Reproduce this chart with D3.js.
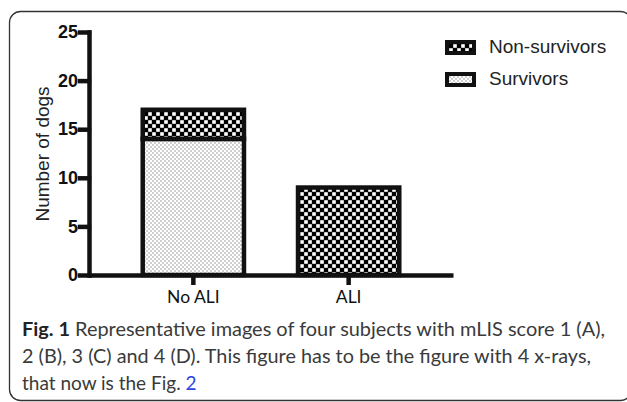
<!DOCTYPE html>
<html>
<head>
<meta charset="utf-8">
<script src="https://cdn.jsdelivr.net/npm/d3@7"></script>
<style>
  body { margin: 0; background: #fff; }
</style>
</head>
<body>
<div class="chart"></div>
<script>
const w = 627;
const h = 402;

// data
const groups = ["No ALI", "ALI"];
const survivors = [14, 0];
const nonSurvivors = [3, 9];
const seriesNames = ["Survivors", "Non-survivors"];
const legendNames = ["Non-survivors", "Survivors"];
const yTicks = [0, 5, 10, 15, 20, 25];
const captionLines = [
  "Representative images of four subjects with mLIS score 1 (A),",
  "2 (B), 3 (C) and 4 (D). This figure has to be the figure with 4 x-rays,",
  "that now is the Fig. "
];

const svg = d3
  .select(".chart")
  .append("svg")
  .attr("width", w)
  .attr("height", h);

// patterns
const defs = svg.append("defs");
const checker = defs
  .append("pattern")
  .attr("id", "checker")
  .attr("patternUnits", "userSpaceOnUse")
  .attr("width", 8)
  .attr("height", 8);
checker.append("rect").attr("width", 8).attr("height", 8).attr("fill", "#000");
checker.append("rect").attr("x", 4.2).attr("y", 0.2).attr("width", 3.6).attr("height", 3.6).attr("fill", "#fff");
checker.append("rect").attr("x", 0.2).attr("y", 4.2).attr("width", 3.6).attr("height", 3.6).attr("fill", "#fff");

const dots = defs
  .append("pattern")
  .attr("id", "dots")
  .attr("patternUnits", "userSpaceOnUse")
  .attr("width", 4)
  .attr("height", 4);
dots.append("rect").attr("width", 4).attr("height", 4).attr("fill", "#fff");
dots.append("circle").attr("cx", 1).attr("cy", 1).attr("r", 0.65).attr("fill", "#777");
dots.append("circle").attr("cx", 3).attr("cy", 3).attr("r", 0.65).attr("fill", "#777");

const fills = { "Survivors": "url(#dots)", "Non-survivors": "url(#checker)" };

// frame
svg
  .append("rect")
  .attr("x", 9.5)
  .attr("y", 11.5)
  .attr("width", 622)
  .attr("height", 389)
  .attr("rx", 11)
  .attr("fill", "none")
  .attr("stroke", "#333")
  .attr("stroke-width", 1.3);

// scales
const xScale = d3
  .scaleBand()
  .domain(groups)
  .range([89, 453])
  .paddingInner(0.348)
  .paddingOuter(0.346);

const yScale = d3.scaleLinear().domain([0, 25]).range([275, 32]);

// stacked bars
const table = groups.map((g, i) => ({
  group: g,
  "Survivors": survivors[i],
  "Non-survivors": nonSurvivors[i]
}));
const stacked = d3.stack().keys(seriesNames)(table);

stacked.forEach((layer) => {
  svg
    .append("g")
    .selectAll("rect")
    .data(layer.filter((d) => d[1] - d[0] > 0))
    .enter()
    .append("rect")
    .attr("x", (d) => xScale(d.data.group))
    .attr("y", (d) => yScale(d[1]))
    .attr("width", xScale.bandwidth())
    .attr("height", (d) => yScale(d[0]) - yScale(d[1]))
    .attr("fill", fills[layer.key])
    .attr("stroke", "#111")
    .attr("stroke-width", 4.5);
});

// axes
const yAxis = d3
  .axisLeft(yScale)
  .tickValues(yTicks)
  .tickSizeInner(9)
  .tickSizeOuter(0)
  .tickPadding(2);

const gy = svg
  .append("g")
  .attr("transform", "translate(89,0)")
  .call(yAxis);
gy.selectAll("path, line")
  .attr("stroke", "#111")
  .attr("stroke-width", 4.5)
  .attr("stroke-linecap", "square");
gy.selectAll("text")
  .attr("fill", "#111")
  .style("font-family", "'Liberation Sans', Arial, sans-serif")
  .style("font-weight", "bold")
  .style("font-size", "18px");

const xAxis = d3.axisBottom(xScale).tickSizeInner(10).tickSizeOuter(0).tickPadding(6);
const gx = svg
  .append("g")
  .attr("transform", "translate(0,275)")
  .call(xAxis);
gx.selectAll("path, line")
  .attr("stroke", "#111")
  .attr("stroke-width", 4.5);
gx.selectAll("text")
  .attr("fill", "#111")
  .style("font-family", "Lato, 'Open Sans', sans-serif")
  .style("font-size", "17.5px");

// y title
svg
  .append("text")
  .attr("transform", "translate(49,154) rotate(-90)")
  .attr("text-anchor", "middle")
  .style("font-family", "'Liberation Sans', Arial, sans-serif")
  .style("font-size", "19px")
  .attr("fill", "#222")
  .text("Number of dogs");

// legend
const legend = svg
  .selectAll(".legend")
  .data(legendNames)
  .enter()
  .append("g")
  .attr("class", "legend")
  .attr("transform", (d, i) => `translate(445,${40 + i * 32})`);
legend
  .append("rect")
  .attr("x", 2)
  .attr("y", 2)
  .attr("width", 27)
  .attr("height", 11)
  .attr("fill", (d) => fills[d])
  .attr("stroke", "#111")
  .attr("stroke-width", 4);
legend
  .append("text")
  .attr("x", 44)
  .attr("y", 13)
  .style("font-family", "'Liberation Sans', Arial, sans-serif")
  .style("font-size", "19px")
  .attr("fill", "#222")
  .text((d) => d);

// caption
const cap = svg
  .append("g")
  .style("font-family", "Lato, 'Open Sans', sans-serif")
  .style("font-size", "19px")
  .attr("fill", "#3a3a3a");

const line1 = cap.append("text").attr("x", 22).attr("y", 336).attr("textLength", 583).attr("lengthAdjust", "spacingAndGlyphs");
line1.append("tspan").style("font-weight", "bold").attr("fill", "#222").text("Fig. 1");
line1.append("tspan").text(" " + captionLines[0]);

cap.append("text").attr("x", 22).attr("y", 363).attr("textLength", 569).attr("lengthAdjust", "spacingAndGlyphs").text(captionLines[1]);

const line3 = cap.append("text").attr("x", 22).attr("y", 390);
line3.append("tspan").text(captionLines[2]);
line3.append("tspan").attr("fill", "#2b44e0").text("2");
</script>
</body>
</html>
